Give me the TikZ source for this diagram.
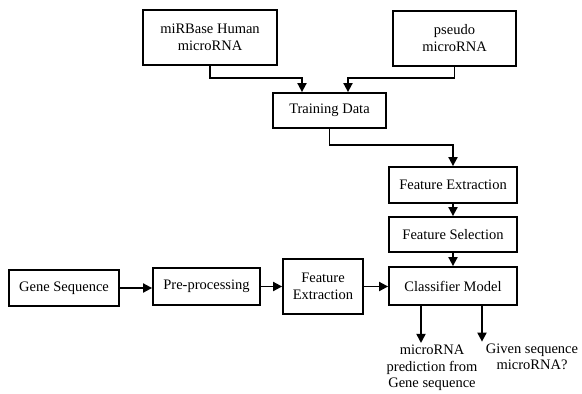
\documentclass[tikz,border=0pt]{standalone}
\usepackage{fontspec}
\setmainfont{Liberation Serif}
\usepackage{tikz}
\usetikzlibrary{arrows.meta, positioning, calc}
\tikzset{
  blk/.style ={rectangle, draw=black, line width=1.8pt, fill=white,
               align=center, font=\fontsize{14.5}{17}\selectfont, inner sep=2pt},
  outtxt/.style={align=center, font=\fontsize{14.5}{16.5}\selectfont, inner sep=2pt},
  ar/.style  ={-{Triangle[length=9pt,width=9pt]}, draw=black, line width=1.8pt},
}
\begin{document}
\begin{tikzpicture}[x=1pt, y=-1pt]
\useasboundingbox (0,0) rectangle (582,394);
\node[blk, minimum width=134pt, minimum height=55pt] (mirbase) at (210,37.5) {miRBase Human\\microRNA};
\node[blk, minimum width=123pt, minimum height=55pt] (pseudo) at (454.5,38.5) {pseudo\\microRNA};
\node[blk, minimum width=113pt, minimum height=35pt] (train) at (329.5,110.5) {Training Data};
\node[blk, minimum width=128pt, minimum height=36pt] (fext) at (453,185) {Feature Extraction};
\node[blk, minimum width=128pt, minimum height=35pt] (fsel) at (453,234.5) {Feature Selection};
\node[blk, minimum width=128pt, minimum height=38pt] (clf) at (453,286) {Classifier Model};
\node[blk, minimum width=110pt, minimum height=36pt] (gene) at (64,288) {Gene Sequence};
\node[blk, minimum width=107pt, minimum height=37pt] (prep) at (206.5,286.5) {Pre-processing};
\node[blk, minimum width=80pt, minimum height=55pt] (fext2) at (323,286.5) {Feature\\Extraction};
\node[outtxt] (pred) at (432,368) {microRNA\\prediction from\\Gene sequence};
\node[outtxt] (given) at (532,357) {Given sequence\\microRNA?};
% training branch
\draw[ar] (mirbase.south) -- ++(0,12) -| ([xshift=-27.5pt]train.north);
\draw[ar] (pseudo.south) -- ++(0,11) -| ([xshift=18.5pt]train.north);
\draw[ar] (train.south) -- ++(0,16) -| (fext.north);
\draw[ar] (fext) -- (fsel);
\draw[ar] (fsel) -- (clf);
% test branch
\draw[ar] (gene.east) -- (gene.east -| prep.west);
\draw[ar] (prep) -- (fext2);
\draw[ar] (fext2.east) -- (fext2.east -| clf.west);
% outputs
\draw[ar] ([xshift=-32pt]clf.south) -- ([xshift=-32pt]clf.south |- pred.north);
\draw[ar] ([xshift=29pt]clf.south) -- ([xshift=29pt]clf.south |- given.north);
\end{tikzpicture}
\end{document}
